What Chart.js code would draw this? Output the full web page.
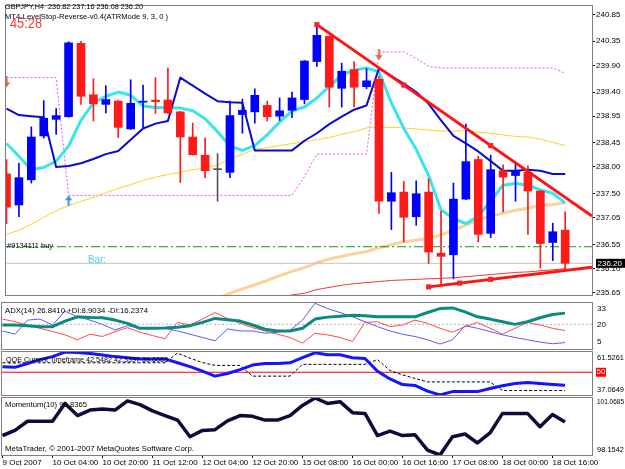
<!DOCTYPE html>
<html><head><meta charset="utf-8">
<script src="https://cdn.jsdelivr.net/npm/chart.js@4.4.1/dist/chart.umd.min.js"></script>
<style>
html,body{margin:0;padding:0;background:#fff;overflow:hidden}
#wrap{position:relative;width:625px;height:469px;background:#fff}
#wrap canvas{position:absolute;left:0}
</style></head><body>
<div id="wrap">
<canvas id="cMain" width="625" height="301" style="top:0px;width:625px;height:301px"></canvas>
<canvas id="cAdx" width="625" height="50" style="top:301px;width:625px;height:50px"></canvas>
<canvas id="cQqe" width="625" height="46" style="top:351px;width:625px;height:46px"></canvas>
<canvas id="cMom" width="625" height="72" style="top:397px;width:625px;height:72px"></canvas>
</div>
<script>
// ---------------- DATA ----------------
const xTickBars = [0,4,8,12,16,20,24,28,32,36,40,44];
const xTickLabels = ['9 Oct 2007','10 Oct 04:00','10 Oct 20:00','11 Oct 12:00','12 Oct 04:00','12 Oct 20:00','15 Oct 08:00','16 Oct 00:00','16 Oct 16:00','17 Oct 08:00','18 Oct 00:00','18 Oct 16:00'];
const priceTicks = [240.85,240.35,239.90,239.40,238.95,238.45,238.00,237.50,237.05,236.55,236.10,235.65];

const open  = [237.87,237.29,237.76,238.58,238.89,238.94,240.31,239.35,239.17,239.23,238.71,239.21,239.25,239.25,239.03,238.56,238.22,237.95,237.90,238.98,239.03,239.15,238.95,239.06,239.26,239.97,240.44,239.47,239.82,239.50,239.64,237.36,237.53,237.07,237.53,236.39,236.36,237.40,238.14,236.76,237.93,237.84,237.90,237.55,236.59,236.82];
const high  = [238.14,238.07,238.75,239.24,239.09,240.34,240.35,239.65,239.52,239.25,239.63,239.53,239.67,239.85,239.04,238.82,238.54,238.25,239.23,239.27,239.46,239.23,239.29,239.40,239.99,240.67,240.45,239.94,239.97,239.84,239.70,237.90,237.73,237.74,237.78,237.17,237.70,238.80,238.20,238.22,238.04,238.08,238.02,237.56,236.95,237.16];
const low   = [236.94,237.07,237.70,238.54,238.61,238.93,239.17,238.86,239.01,238.55,238.70,238.72,239.00,239.00,237.71,238.22,237.80,237.36,237.80,238.63,238.82,238.86,238.87,238.92,239.18,239.88,239.12,239.12,239.12,239.46,237.13,236.83,236.60,236.91,236.20,235.82,235.91,237.39,236.60,236.68,237.16,237.36,236.74,236.12,236.25,236.08];
const close = [237.25,237.80,238.56,238.91,238.96,240.32,239.32,239.18,239.26,238.74,239.19,239.23,239.22,239.01,238.56,238.23,237.93,237.95,238.96,239.06,239.34,238.94,239.05,239.29,239.98,240.46,239.49,239.79,239.49,239.61,237.36,237.52,237.06,237.50,236.41,236.33,237.40,238.10,236.74,237.95,237.81,237.93,237.55,236.57,236.79,236.20];

const blueLine = [239.09,238.97,238.95,238.93,238.00,238.02,238.07,238.15,238.24,238.30,238.51,238.72,238.81,238.86,239.67,239.52,239.37,239.23,239.21,239.20,238.31,238.31,238.31,238.31,238.49,238.63,238.80,238.94,239.07,239.15,239.84,239.70,239.56,239.40,239.18,238.87,238.58,238.44,238.29,238.11,237.93,237.93,237.95,237.93,237.87,237.87];
const cyanLine = [238.44,238.20,237.95,237.99,238.11,238.39,238.87,239.20,239.32,239.40,239.34,239.14,239.11,239.11,239.10,239.05,238.90,238.66,238.39,238.31,238.40,238.60,238.84,239.05,239.12,239.29,239.50,239.72,239.81,239.85,239.78,239.20,238.72,238.33,237.84,237.20,237.04,236.94,237.08,237.37,237.66,237.69,237.66,237.57,237.51,237.33];
const yellowLine = [236.74,236.82,236.93,237.06,237.18,237.28,237.36,237.43,237.52,237.60,237.67,237.75,237.81,237.86,237.90,237.95,237.98,238.04,238.15,238.24,238.33,238.36,238.40,238.44,238.47,238.51,238.55,238.61,238.66,238.73,238.74,238.74,238.73,238.71,238.69,238.67,238.67,238.68,238.65,238.63,238.60,238.57,238.56,238.52,238.46,238.40];
const peachLine = [null,null,null,null,null,null,null,null,null,null,null,null,null,null,null,235.39,235.47,235.55,235.64,235.72,235.80,235.88,235.97,236.05,236.12,236.21,236.28,236.33,236.38,236.42,236.49,236.55,236.60,236.63,236.67,236.73,236.82,236.91,237.02,237.08,237.14,237.19,237.23,237.28,237.30,237.33];
const redLine = [null,null,null,null,null,null,null,null,null,null,null,null,null,null,null,null,null,null,null,null,null,235.52,235.57,235.61,235.64,235.71,235.75,235.79,235.82,235.84,235.86,235.88,235.89,235.90,235.91,235.92,235.93,235.95,235.97,235.99,236.01,236.03,236.04,236.06,236.08,236.10];
const levelStop = [239.67,239.67,239.67,239.67,239.67,237.47,237.47,237.47,237.47,237.47,237.47,237.47,237.47,237.47,237.47,237.47,237.47,237.47,237.47,237.47,237.47,237.47,237.47,237.47,237.82,238.24,238.24,238.24,238.24,238.24,240.15,240.15,240.15,240.03,239.88,239.85,239.85,239.85,239.85,239.85,239.85,239.85,239.85,239.85,239.85,239.75];
const upArrows = [[5,237.37]];
const downArrows = [[0,239.59],[30,240.10]];
const downTrend = [[25,240.66],[39,238.40]];
const upTrend = [[34,235.76],[39,235.90]];
const orderPrice = 236.51;

const adx     = [19.6,19.6,19.2,18.6,18.6,22.0,24.6,24.2,24.0,22.6,20.6,17.6,17.6,17.8,18.2,19.2,21.2,23.6,22.8,22.0,19.6,17.0,16.0,16.0,17.6,23.2,24.4,25.0,25.6,25.2,24.6,24.6,24.6,24.6,27.2,29.6,30.0,27.6,24.6,23.2,21.6,20.0,21.6,24.0,26.0,26.84];
const plusDI  = [16.0,14.0,22.6,23.2,19.6,28.0,24.6,22.6,20.0,16.6,19.2,17.6,17.6,17.6,16.0,14.0,12.0,10.0,17.2,16.0,16.0,14.6,15.2,16.4,22.6,32.8,29.6,27.2,24.6,21.6,18.6,16.0,14.0,12.6,10.6,8.0,10.6,19.2,17.6,15.6,13.6,12.0,10.6,9.2,8.2,8.90];
const minusDI = [23.2,21.6,19.6,17.6,15.6,13.6,10.6,14.0,12.6,15.6,18.0,15.2,13.2,11.2,21.2,19.6,23.2,27.2,23.6,20.6,18.0,16.0,14.0,12.0,8.6,14.6,13.6,12.0,9.6,21.2,21.6,18.6,19.6,22.6,20.6,17.6,15.2,18.6,21.2,17.6,14.0,17.6,21.2,19.6,17.6,16.24];
const adxLevel = 20;

const qqeRsi   = [53.2,52.8,55.0,57.2,58.9,61.5,61.3,60.7,59.8,58.9,58.3,57.6,57.6,57.6,55.4,53.2,50.6,47.8,49.3,51.5,54.1,55.0,55.0,55.4,58.3,61.1,60.0,60.0,58.3,57.8,50.6,46.2,43.0,42.5,39.3,37.07,39.0,39.0,39.0,40.8,42.3,43.6,44.2,43.6,43.0,42.55];
const qqeTrail = [55.4,55.4,55.4,55.4,55.4,55.4,55.4,55.4,55.4,55.4,55.4,55.4,55.4,55.4,60.9,58.0,55.5,53.9,53.9,53.9,47.8,47.8,47.8,47.8,54.5,54.5,54.5,54.5,54.5,54.5,57.2,51.0,48.5,46.5,44.5,44.5,44.5,44.5,44.5,44.5,39.6,39.6,39.6,39.6,39.6,39.6];
const qqeLevel = 50;

const momentum = [99.15,99.41,99.88,99.88,99.88,100.79,100.17,100.45,100.50,100.45,100.92,100.73,100.41,100.17,99.94,99.09,99.41,99.45,99.90,100.17,100.13,99.94,99.94,100.17,100.69,101.07,100.79,100.88,100.32,100.28,99.15,99.38,99.15,99.19,98.40,98.154,99.09,99.23,98.77,99.28,100.28,100.28,100.28,99.60,100.22,99.84];

// ---------------- SETUP ----------------
const X_MIN = -0.04, X_MAX = 47.16;
const Y_MIN = 235.608, Y_MAX = 241.008;
const BULL = '#0000ff', BEAR = '#ff1a1a', DOJI = '#555555';
const FONT = "'Liberation Sans', Arial, sans-serif";
Chart.defaults.font.family = FONT;
Chart.defaults.font.size = 8;
Chart.defaults.color = '#000';

const annot = {
  id: 'annot',
  afterDraw(chart, args, o) {
    const ctx = chart.ctx, ca = chart.chartArea;
    ctx.save();
    ctx.strokeStyle = '#808080'; ctx.lineWidth = 1;
    ctx.strokeRect(ca.left - 0.5, ca.top - 0.5, ca.right - ca.left + 1, ca.bottom - ca.top + 1);
    ctx.textBaseline = 'middle'; ctx.textAlign = 'left';
    (o.texts || []).forEach(t => {
      ctx.font = t.font || ("8px " + FONT);
      ctx.fillStyle = t.color || '#000';
      if (t.w) ctx.fillText(t.text, t.x, t.y, t.w); else ctx.fillText(t.text, t.x, t.y);
    });
    const ys = chart.scales.y;
    const eT = (o.edge && o.edge[0]) || 5, eB = (o.edge && o.edge[1]) || 5.5;
    (o.axisLabels || []).forEach(a => {
      let y = ys.getPixelForValue(a.value);
      y = Math.min(Math.max(y, ca.top + eT), ca.bottom - eB);
      ctx.font = "8px " + FONT;
      if (a.bg) { ctx.fillStyle = a.bg; ctx.fillRect(ca.right + 4, y - 4.5, a.bw, 9); }
      ctx.fillStyle = a.color || '#000';
      ctx.fillText(a.text, ca.right + (a.dx || 5), y, a.w || 27);
    });
    ctx.restore();
  }
};
Chart.register(annot);

function pts(arr) { return arr.map((v, i) => ({ x: i, y: v })); }
function L(arr, color, width, order, extra) {
  return Object.assign({ type: 'line', data: pts(arr), borderColor: color, borderWidth: width,
    pointRadius: 0, pointHoverRadius: 0, tension: 0, fill: false, order: order,
    borderJoinStyle: 'round', spanGaps: false }, extra || {});
}
function xScale(show) {
  const s = { type: 'linear', min: X_MIN, max: X_MAX, offset: false, display: show,
    grid: { display: false, offset: false }, border: { display: false } };
  if (show) {
    Object.assign(s, {
      position: 'bottom',
      afterFit: sc => { sc.height = 14; },
      afterBuildTicks: sc => { sc.ticks = xTickBars.map(v => ({ value: v })); },
      grid: { display: true, offset: false, drawOnChartArea: false, drawTicks: true, tickLength: 3, color: '#000', lineWidth: 1 },
      ticks: { align: 'start', autoSkip: false, maxRotation: 0, minRotation: 0, padding: 0,
        font: { size: 8 }, color: '#000', callback: (v, i) => xTickLabels[i] }
    });
  }
  return s;
}
function baseOpts(extra) {
  return Object.assign({ responsive: false, devicePixelRatio: 1, animation: false, events: [],
    plugins: { legend: { display: false }, tooltip: { enabled: false } } }, extra);
}
function arrowImg(color, down) {
  const c = document.createElement('canvas'); c.width = 7; c.height = 11;
  const g = c.getContext('2d'); g.fillStyle = color;
  if (down) { g.translate(0, 11); g.scale(1, -1); }
  g.beginPath(); g.moveTo(3.5, 0); g.lineTo(7, 5); g.lineTo(4.5, 5); g.lineTo(4.5, 11);
  g.lineTo(2.5, 11); g.lineTo(2.5, 5); g.lineTo(0, 5); g.closePath(); g.fill();
  return c;
}
function ray(anch) {
  const [a, b] = anch; const slope = (b[1] - a[1]) / (b[0] - a[0]);
  return [{ x: a[0], y: a[1] }, { x: X_MAX, y: b[1] + slope * (X_MAX - b[0]) }];
}
function handles(anch) {
  const [a, b] = anch;
  return [{ x: a[0], y: a[1] }, { x: (a[0] + b[0]) / 2, y: (a[1] + b[1]) / 2 }, { x: b[0], y: b[1] }];
}

// ---------------- MAIN ----------------
const candleColor = close.map((c, i) => c > open[i] ? BULL : (c < open[i] ? BEAR : DOJI));
const last = close[close.length - 1];
new Chart(document.getElementById('cMain'), {
  type: 'line',
  data: { datasets: [
    L(levelStop, '#f050f0', 1, 30, { borderDash: [2, 2] }),
    L(yellowLine, '#ffd21e', 1, 29),
    L(peachLine, '#fdd29a', 3, 28),
    L(redLine, '#f03a3a', 1, 27),
    L(cyanLine, '#38e4f0', 3, 26),
    L(blueLine, '#0a0ad2', 2, 25),
    { type: 'line', data: [{ x: X_MIN, y: orderPrice }, { x: X_MAX, y: orderPrice }], borderColor: '#109a10', borderWidth: 1, borderDash: [9, 3, 2, 3], pointRadius: 0, order: 24 },
    { type: 'line', data: [{ x: X_MIN, y: last }, { x: X_MAX, y: last }], borderColor: '#c4c4c4', borderWidth: 1, pointRadius: 0, order: 23 },
    { type: 'bar', data: high.map((h, i) => ({ x: i, y: [low[i], h] })), backgroundColor: candleColor, barThickness: 1, grouped: false, order: 5, clip: 0, borderWidth: 0 },
    { type: 'bar', data: open.map((o, i) => ({ x: i, y: [Math.min(o, close[i]), Math.max(o, close[i])] })), backgroundColor: candleColor, barThickness: 8, minBarLength: 1, grouped: false, order: 4, clip: 0, borderWidth: 0 },
    { type: 'line', data: ray(downTrend), borderColor: '#ff1414', borderWidth: 3, pointRadius: 0, order: 3 },
    { type: 'line', data: ray(upTrend), borderColor: '#ff1414', borderWidth: 3, pointRadius: 0, order: 3 },
    { type: 'line', data: handles(downTrend).concat(handles(upTrend)), showLine: false, pointStyle: 'rect', pointRadius: 3.6, backgroundColor: '#ff2020', borderColor: '#d01010', borderWidth: 0, order: 2 },
    { type: 'line', data: upArrows.map(a => ({ x: a[0], y: a[1] })), showLine: false, pointStyle: arrowImg('#3a8ef0', false), pointRadius: 5, order: 1 },
    { type: 'line', data: downArrows.map(a => ({ x: a[0], y: a[1] })), showLine: false, pointStyle: arrowImg('#e8603a', true), pointRadius: 5, order: 1 }
  ] },
  options: baseOpts({
    layout: { padding: { left: 2, top: 2, right: 0, bottom: 1 } },
    scales: {
      x: xScale(false),
      y: { type: 'linear', position: 'right', min: Y_MIN, max: Y_MAX, beginAtZero: false,
        afterFit: s => { s.width = 33; },
        afterBuildTicks: s => { s.ticks = priceTicks.map(v => ({ value: v })); },
        grid: { display: true, drawOnChartArea: false, drawTicks: true, tickLength: 3, color: '#000', offset: false },
        border: { display: true, color: '#808080' },
        ticks: { autoSkip: false, padding: 1, font: { size: 8 }, color: '#000', callback: v => v.toFixed(2) } }
    },
    plugins: { legend: { display: false }, tooltip: { enabled: false },
      annot: {
        texts: [
          { text: 'GBPJPY,H4  236.82 237.16 236.08 236.20', x: 5, y: 6.5, w: 138 },
          { text: 'MT4-LevelStop-Reverse-v0.4(ATRMode 9, 3, 0 )', x: 5, y: 16.5, w: 163 },
          { text: '45:28', x: 10, y: 23.5, font: "15px " + FONT, color: '#f04040', w: 32 },
          { text: '#9134111 buy', x: 7, y: 246, w: 46 },
          { text: 'Bar:', x: 88, y: 259.5, font: "11px " + FONT, color: '#40d8f0', w: 18 }
        ],
        axisLabels: [ { value: last, text: last.toFixed(2), bg: '#000', color: '#fff', bw: 29, dx: 5.5 } ]
      } }
  })
});

// ---------------- ADX ----------------
new Chart(document.getElementById('cAdx'), {
  type: 'line',
  data: { datasets: [
    { type: 'line', data: [{ x: X_MIN, y: adxLevel }, { x: X_MAX, y: adxLevel }], borderColor: '#b4b4b4', borderWidth: 1, borderDash: [2, 2], pointRadius: 0, order: 9 },
    L(minusDI, '#ff4a4a', 1, 4),
    L(plusDI, '#5a5aff', 1, 3),
    L(adx, '#0a8a80', 3, 2)
  ] },
  options: baseOpts({
    layout: { padding: { left: 2, top: 2, right: 33, bottom: 2 } },
    scales: { x: xScale(false), y: { type: 'linear', display: false, min: 5, max: 33 } },
    plugins: { legend: { display: false }, tooltip: { enabled: false },
      annot: {
        texts: [ { text: 'ADX(14) 26.8410 +DI:8.9034 -DI:16.2374', x: 5, y: 9.7, w: 143 } ],
        edge: [5.3, 7],
        axisLabels: [ { value: 33, text: '33' }, { value: 20, text: '20' }, { value: 5, text: '5' } ]
      } }
  })
});

// ---------------- QQE ----------------
new Chart(document.getElementById('cQqe'), {
  type: 'line',
  data: { datasets: [
    { type: 'line', data: [{ x: X_MIN, y: qqeLevel }, { x: X_MAX, y: qqeLevel }], borderColor: '#ff0000', borderWidth: 1, pointRadius: 0, order: 9 },
    L(qqeTrail, '#000000', 1, 4, { borderDash: [3, 2] }),
    L(qqeRsi, '#1414ff', 3, 3)
  ] },
  options: baseOpts({
    layout: { padding: { left: 2, top: 1, right: 33, bottom: 2 } },
    scales: { x: xScale(false), y: { type: 'linear', display: false, min: 37.0649, max: 61.5261 } },
    plugins: { legend: { display: false }, tooltip: { enabled: false },
      annot: {
        texts: [ { text: 'QQE Current Timeframe 42.5482 42.3397 39.6063', x: 6, y: 9.2, w: 162 } ],
        edge: [5.7, 5.7],
        axisLabels: [ { value: 61.5261, text: '61.5261' }, { value: 50, text: '50', bg: '#ff0000', color: '#fff', bw: 10, dx: 4.5 }, { value: 37.0649, text: '37.0649' } ]
      } }
  })
});

// ---------------- MOMENTUM ----------------
new Chart(document.getElementById('cMom'), {
  type: 'line',
  data: { datasets: [ L(momentum, '#0c0c3c', 3.5, 2) ] },
  options: baseOpts({
    layout: { padding: { left: 2, top: 1, right: 33, bottom: 0 } },
    scales: { x: xScale(true), y: { type: 'linear', display: false, min: 98.1542, max: 101.0685 } },
    plugins: { legend: { display: false }, tooltip: { enabled: false },
      annot: {
        texts: [
          { text: 'Momentum(10) 99.8365', x: 5, y: 7.5, w: 82 },
          { text: 'MetaTrader, \u00a9 2001-2007 MetaQuotes Software Corp.', x: 5, y: 52, w: 189 }
        ],
        edge: [3.7, 5],
        axisLabels: [ { value: 101.0685, text: '101.0685' }, { value: 98.1542, text: '98.1542' } ]
      } }
  })
});
</script>
</body></html>
